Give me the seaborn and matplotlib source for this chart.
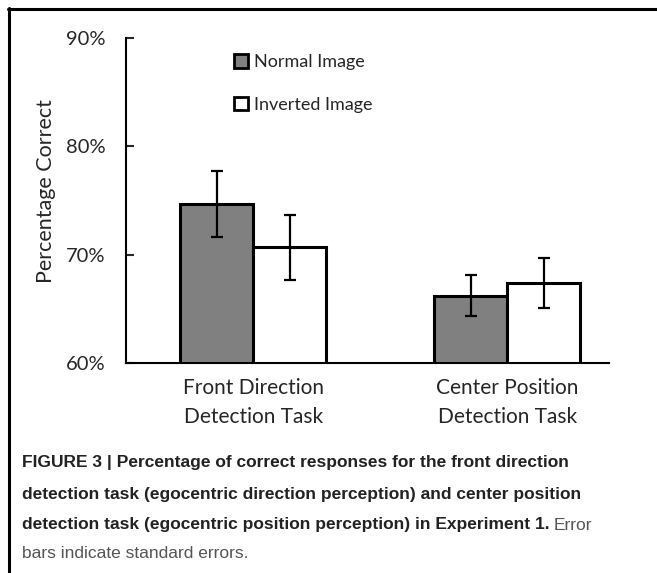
#Libraries
import pandas as pd
import seaborn as sns
import numpy as np
import matplotlib.pyplot as plt
from matplotlib.patches import Patch
from matplotlib.lines import Line2D

#Data
tasks = ["Front Direction\nDetection Task", "Center Position\nDetection Task"]
conditions = ["Normal Image", "Inverted Image"]
normal_pct = [74.7, 66.2]
inverted_pct = [70.7, 67.4]
normal_se = [3.05, 1.9]
inverted_se = [3.0, 2.3]
yticks = [60, 70, 80, 90]

sns.set_style("white")
plt.rcParams['font.family'] = ['Lato', 'DejaVu Sans']

df = pd.DataFrame({
    "task": tasks * 2,
    "condition": [conditions[0]] * 2 + [conditions[1]] * 2,
    "pct": normal_pct + inverted_pct,
    "se": normal_se + inverted_se,
})

fig = plt.figure(figsize=(6.57, 5.73), dpi=100)
ax = fig.add_axes([126 / 657, 1 - 363 / 573, 483 / 657, 325 / 573])

palette = {conditions[0]: "#808080", conditions[1]: "#ffffff"}
sns.barplot(data=df, x="task", y="pct", hue="condition", palette=palette,
            width=0.575, errorbar=None, edgecolor="black", linewidth=2.2,
            legend=False, ax=ax)

#Error bars placed on the bar centers
for bars, cond in zip(ax.containers, conditions):
    sub = df[df["condition"] == cond]
    xs = [b.get_x() + b.get_width() / 2 for b in bars]
    ax.errorbar(xs, sub["pct"], yerr=sub["se"], fmt="none", ecolor="black",
                elinewidth=1.6, capsize=4, capthick=1.6)

ax.set_ylim(60, 90)
ax.set_xlim(-0.5, 1.4)
ax.set_yticks(yticks)
ax.set_yticklabels([f"{t}%" for t in yticks], fontsize=14.5)
ax.tick_params(axis="y", direction="in", length=6, width=1.5, pad=15, left=True)
ax.tick_params(axis="x", length=0, pad=11)
for lab in ax.get_xticklabels():
    lab.set_fontsize(15)
    lab.set_linespacing(1.55)
ax.set_xlabel("")
ax.set_ylabel("Percentage Correct", fontsize=15.5)
ax.yaxis.set_label_coords(-0.145, 0.53)
sns.despine(ax=ax)
for s in ["left", "bottom"]:
    ax.spines[s].set_linewidth(1.5)
    ax.spines[s].set_color("black")

handles = [Patch(facecolor=palette[c], edgecolor="black", linewidth=2.0) for c in conditions]
ax.legend(handles, conditions, loc="upper left", bbox_to_anchor=(0.19, 1.0),
          frameon=False, fontsize=13, handlelength=0.8, handleheight=0.8,
          handletextpad=0.3, labelspacing=1.45)

#Frame lines of the figure panel
fig.add_artist(Line2D([8.5 / 657, 8.5 / 657], [0, 1 - 8 / 573], color="black", lw=2.2))
fig.add_artist(Line2D([8 / 657, 1], [1 - 8.5 / 573, 1 - 8.5 / 573], color="black", lw=2.2))

#Caption
cap_font = ['Liberation Sans', 'DejaVu Sans']
bold_lines = [
    "FIGURE 3 | Percentage of correct responses for the front direction",
    "detection task (egocentric direction perception) and center position",
    "detection task (egocentric position perception) in Experiment 1.",
]
x0 = 22 / 657
ys = [463, 494, 525]
last = None
for line, y in zip(bold_lines, ys):
    last = fig.text(x0, 1 - y / 573, line, fontsize=12.5, fontweight="bold",
                    color="#222222", family=cap_font, va="center")
fig.canvas.draw()
bb = last.get_window_extent(fig.canvas.get_renderer())
fig.text(bb.x1 / fig.bbox.width + 4 / 657, 1 - ys[2] / 573, "Error", fontsize=12.5,
         color="#555555", family=cap_font, va="center")
fig.text(x0, 1 - 553 / 573, "bars indicate standard errors.", fontsize=12.5,
         color="#555555", family=cap_font, va="center")

fig.savefig("out.png", dpi=100)
